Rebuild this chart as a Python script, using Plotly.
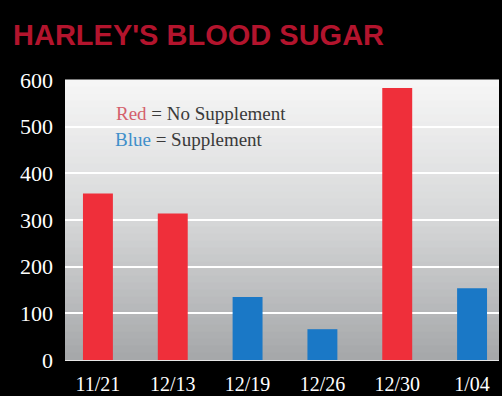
import plotly.graph_objects as go

# ---- data ----
dates = ["11/21", "12/13", "12/19", "12/26", "12/30", "1/04"]
blood_sugar = [357, 314, 135, 66, 583, 154]
supplement = [False, False, True, True, False, True]
y_ticks = [0, 100, 200, 300, 400, 500, 600]

RED = "#ef2f3a"
BLUE = "#1a78c6"
bar_colors = [BLUE if s else RED for s in supplement]

fig = go.Figure()
fig.add_trace(go.Bar(
    x=dates, y=blood_sugar,
    marker=dict(color=bar_colors, line=dict(width=0)),
    width=0.4,
    showlegend=False,
    hoverinfo="x+y",
))

# vertical gradient background (style only)
def lerp(a, b, t):
    return int(round(a + (b - a) * t))

top = (246, 246, 246)
mid = (214, 215, 216)
bot = (166, 168, 170)
n = 40
shapes = []
for i in range(n):
    t = i / (n - 1)
    if t < 0.5:
        c = tuple(lerp(top[k], mid[k], t / 0.5) for k in range(3))
    else:
        c = tuple(lerp(mid[k], bot[k], (t - 0.5) / 0.5) for k in range(3))
    y1 = 1 - i / n
    y0 = 1 - (i + 1) / n
    shapes.append(dict(
        type="rect", xref="x domain", yref="y domain",
        x0=0, x1=1, y0=y0, y1=y1 + 0.002,
        fillcolor="rgb(%d,%d,%d)" % c, line=dict(width=0), layer="below",
    ))

fig.update_layout(
    width=502, height=396,
    margin=dict(l=65, r=3, t=80, b=36, autoexpand=False),
    paper_bgcolor="black",
    plot_bgcolor="#c8c8c8",
    shapes=shapes,
    title=dict(
        text="<b>HARLEY'S BLOOD SUGAR</b>",
        x=13 / 502, xanchor="left", xref="container",
        y=0.911, yanchor="middle", yref="container",
        font=dict(family="Liberation Sans, Arial, sans-serif", size=29, color="#b3142d"),
    ),
    bargap=0.6,
)

fig.update_xaxes(
    type="category",
    range=[-0.44, 5.36],
    automargin=False,
    showgrid=False, zeroline=False,
    showline=True, linecolor="#e6e6e6", linewidth=1,
    tickfont=dict(family="Liberation Serif, serif", size=20, color="white"),
    ticks="", ticklabelstandoff=6,
)
fig.update_yaxes(
    range=[0, 600],
    automargin=False,
    tickvals=y_ticks,
    showgrid=True, gridcolor="white", gridwidth=2,
    zeroline=False, showline=False,
    tickfont=dict(family="Liberation Serif, serif", size=22, color="white"),
    ticks="", ticklabelstandoff=11,
)

fig.add_annotation(
    xref="paper", yref="paper", x=0.112, y=0.882, xanchor="left", yanchor="middle",
    text='<span style="color:#d4606c">Red</span> = No Supplement',
    showarrow=False,
    font=dict(family="Liberation Serif, serif", size=19, color="#3a3a3a"),
)
fig.add_annotation(
    xref="paper", yref="paper", x=0.110, y=0.786, xanchor="left", yanchor="middle",
    text='<span style="color:#3f8fca">Blue</span> = Supplement',
    showarrow=False,
    font=dict(family="Liberation Serif, serif", size=19, color="#3a3a3a"),
)

fig.write_html("out.html")
